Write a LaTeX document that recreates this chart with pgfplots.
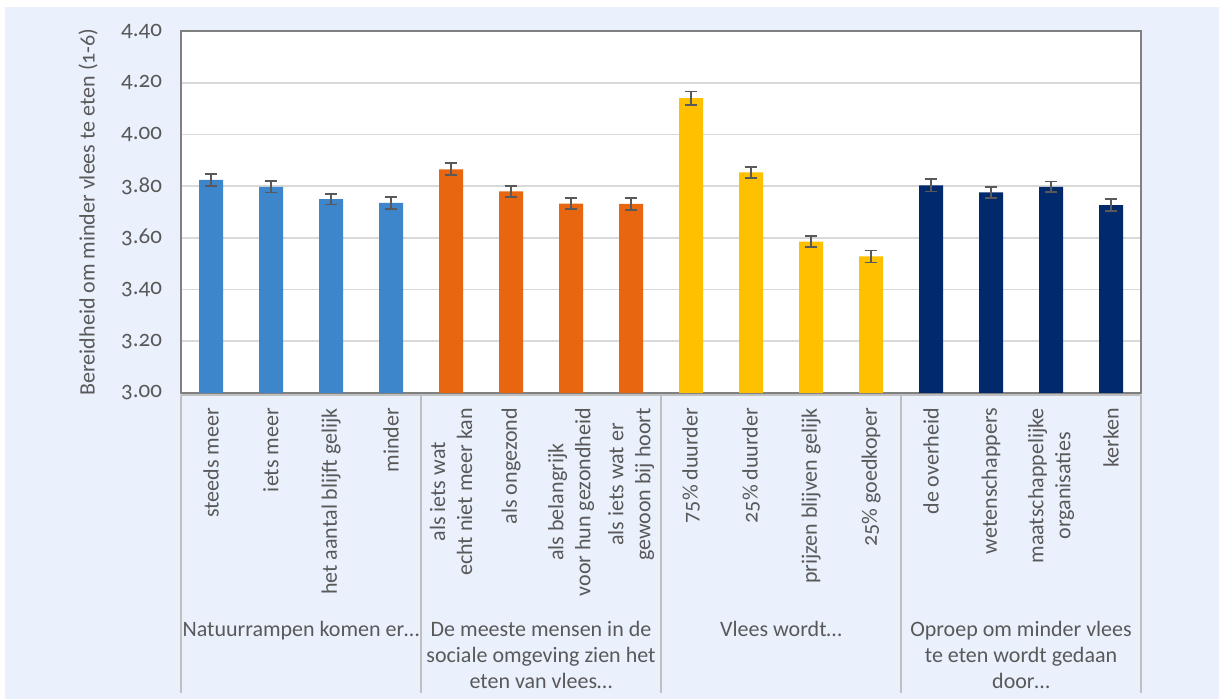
\documentclass[border=0pt]{standalone}
\usepackage{pgfplots}
\pgfplotsset{compat=1.18}
\usepackage{fontspec}
\setmainfont[Numbers=OldStyle]{Carlito}
\definecolor{bgblue}{RGB}{234,241,253}
\definecolor{cblue}{RGB}{62,134,203}
\definecolor{corange}{RGB}{233,102,17}
\definecolor{cyellow}{RGB}{255,192,0}
\definecolor{cnavy}{RGB}{0,42,108}
\definecolor{errgray}{RGB}{89,89,89}
\definecolor{txtgray}{RGB}{89,89,89}
\definecolor{gridgray}{RGB}{217,217,217}
\definecolor{framegray}{RGB}{191,191,191}
\begin{document}
\begin{tikzpicture}
% 1 px of the reference = 0.5pt; picture is 609.5pt x 349.5pt
\path[use as bounding box] (0,0) rectangle (609.5pt,349.5pt);
\fill[white] (0,0) rectangle (609.5pt,349.5pt);
\fill[bgblue] (2.5pt,0) rectangle (609.5pt,346pt);
\fill[white] (90.5pt,153pt) rectangle (570.5pt,334pt);

\begin{axis}[
    at={(90.5pt,153pt)}, anchor=south west,
    scale only axis,
    width=480pt, height=181pt,
    xmin=-0.5, xmax=15.5,
    ymin=3, ymax=4.4,
    ytick={3,3.2,...,4.41},
    xtick={0,...,15},
    xticklabels={steeds meer, iets meer, het aantal blijft gelijk, minder,
        {als iets wat\\echt niet meer kan}, als ongezond,
        {als belangrijk\\voor hun gezondheid}, {als iets wat er\\gewoon bij hoort},
        75\% duurder, 25\% duurder, prijzen blijven gelijk, 25\% goedkoper,
        de overheid, wetenschappers, {maatschappelijke\\organisaties}, kerken},
    xticklabel style={rotate=90, anchor=east, align=center,
        font=\fontsize{11}{13.5}\selectfont, text=txtgray, xshift=-4pt},
    yticklabel style={font=\fontsize{11.5}{12}\selectfont, text=txtgray, xshift=-6pt},
    /pgf/number format/.cd, fixed, fixed zerofill, precision=2, assume math mode=true,
    /pgfplots/.cd,
    major tick length=0pt,
    ymajorgrids,
    grid style={draw=gridgray, line width=0.8pt},
    axis line style={draw=gray, line width=0.8pt},
    ybar, bar width=12pt,
    clip=false,
    error bars/y dir=both,
    error bars/y explicit,
    error bars/error bar style={draw=errgray, line width=0.9pt},
    error bars/error mark options={rotate=90, draw=errgray, line width=0.9pt, mark size=3.2pt},
]
\addplot[fill=cblue, draw=none, bar shift=0pt] coordinates {
    (0,3.824) +- (0,0.023)
    (1,3.797) +- (0,0.022)
    (2,3.750) +- (0,0.021)
    (3,3.735) +- (0,0.023)
};
\addplot[fill=corange, draw=none, bar shift=0pt] coordinates {
    (4,3.865) +- (0,0.023)
    (5,3.780) +- (0,0.021)
    (6,3.732) +- (0,0.021)
    (7,3.731) +- (0,0.022)
};
\addplot[fill=cyellow, draw=none, bar shift=0pt] coordinates {
    (8,4.140) +- (0,0.026)
    (9,3.853) +- (0,0.022)
    (10,3.585) +- (0,0.021)
    (11,3.528) +- (0,0.023)
};
\addplot[fill=cnavy, draw=none, bar shift=0pt] coordinates {
    (12,3.803) +- (0,0.024)
    (13,3.776) +- (0,0.021)
    (14,3.797) +- (0,0.021)
    (15,3.727) +- (0,0.023)
};
\end{axis}

% frame of the category area
\foreach \gx in {90.5,210.5,330.5,450.5,570.5} {
    \draw[framegray, line width=1.2pt] (\gx pt,152pt) -- (\gx pt,3pt);
}
\draw[framegray, line width=0.6pt] (90.5pt,152pt) -- (570.5pt,152pt);

% group labels
\begin{scope}[every node/.style={anchor=north, align=center,
        inner sep=0pt, text=txtgray, font=\fontsize{11}{13}\selectfont}]
\node at (150.5pt,39pt) {Natuurrampen komen er\dots};
\node at (270.5pt,39pt) {De meeste mensen in de\\sociale omgeving zien het\\eten van vlees\dots};
\node at (390.5pt,39pt) {Vlees wordt\dots};
\node at (510.5pt,39pt) {Oproep om minder vlees\\te eten wordt gedaan\\door\dots};
\end{scope}

% y axis title
\node[rotate=90, text=txtgray, font=\fontsize{11}{12}\selectfont]
    at (44pt,243.5pt) {Bereidheid om minder vlees te eten (1-6)};
\end{tikzpicture}
\end{document}
